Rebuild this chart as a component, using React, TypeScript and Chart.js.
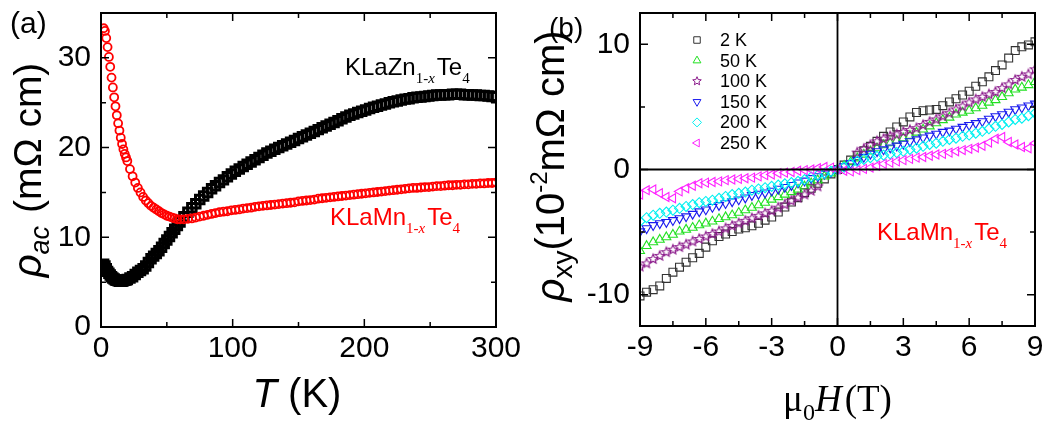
import React, { useEffect, useRef } from "react";
import { Chart, registerables } from "chart.js";
Chart.register(...registerables);

const SANS = "'Liberation Sans', Arial, sans-serif";
const SERIF = "'Liberation Serif', 'Times New Roman', serif";

// ---------- Panel (a): resistivity vs temperature ----------
const tempK = [
  2, 3, 4, 5, 6, 7, 8, 9, 10, 11, 12, 13, 14, 15, 16, 17, 18, 19, 20,
  22, 24, 26, 28, 30, 32, 34, 36, 38, 40, 42, 44, 46, 48, 50, 52, 54, 56, 58, 60,
  63, 66, 69, 72, 75, 78, 81, 84, 87, 90,
  93, 96, 99, 102, 105, 108, 111, 114, 117, 120,
  123, 126, 129, 132, 135, 138, 141, 144, 147, 150,
  153, 156, 159, 162, 165, 168, 171, 174, 177, 180,
  183, 186, 189, 192, 195, 198, 201, 204, 207, 210,
  213, 216, 219, 222, 225, 228, 231, 234, 237, 240,
  243, 246, 249, 252, 255, 258, 261, 264, 267, 270,
  273, 276, 279, 282, 285, 288, 291, 294, 297, 300,
];
const rhoZn = [
  7.0, 6.8, 6.5, 6.2, 6.0, 5.8, 5.6, 5.45, 5.35, 5.25, 5.2, 5.15, 5.1, 5.1, 5.1, 5.15, 5.2, 5.25, 5.3,
  5.45, 5.6, 5.85, 6.1, 6.3, 6.5, 6.8, 7.2, 7.6, 7.9, 8.2, 8.5, 8.9, 9.3, 9.7, 10.1, 10.5, 10.9, 11.3, 11.7,
  12.3, 12.8, 13.3, 13.75, 14.2, 14.6, 15.0, 15.4, 15.75, 16.1,
  16.4, 16.75, 17.05, 17.35, 17.6, 17.9, 18.15, 18.4, 18.65, 18.9,
  19.15, 19.4, 19.6, 19.8, 20.0, 20.2, 20.4, 20.6, 20.8, 21.0,
  21.2, 21.4, 21.6, 21.8, 22.0, 22.2, 22.4, 22.6, 22.8, 23.0,
  23.2, 23.4, 23.6, 23.75, 23.9, 24.05, 24.2, 24.35, 24.5, 24.6,
  24.75, 24.85, 25.0, 25.1, 25.2, 25.3, 25.4, 25.45, 25.55, 25.6,
  25.65, 25.7, 25.75, 25.8, 25.85, 25.85, 25.9, 25.9, 25.95, 25.95,
  25.95, 25.9, 25.9, 25.85, 25.85, 25.8, 25.8, 25.75, 25.7, 25.7,
];
const rhoMn = [
  33.3, 33.0, 32.2, 31.2, 30.1, 29.0, 27.8, 26.7, 25.6, 24.6, 23.6, 22.7, 21.9, 21.1, 20.4, 19.8, 19.3, 18.9, 18.5,
  17.6, 16.8, 16.1, 15.5, 15.0, 14.5, 14.1, 13.8, 13.5, 13.3, 13.1, 12.9, 12.7, 12.55, 12.4, 12.3, 12.2, 12.1, 12.0, 12.0,
  12.0, 12.05, 12.1, 12.2, 12.3, 12.4, 12.5, 12.6, 12.7, 12.8,
  12.85, 12.9, 13.0, 13.05, 13.1, 13.2, 13.25, 13.3, 13.4, 13.45,
  13.5, 13.55, 13.6, 13.65, 13.7, 13.75, 13.8, 13.85, 13.9, 14.0,
  14.05, 14.1, 14.15, 14.2, 14.3, 14.35, 14.4, 14.45, 14.5, 14.55,
  14.6, 14.65, 14.7, 14.75, 14.8, 14.85, 14.9, 14.95, 15.0, 15.05,
  15.1, 15.15, 15.2, 15.25, 15.3, 15.35, 15.4, 15.45, 15.5, 15.5,
  15.55, 15.6, 15.6, 15.65, 15.7, 15.7, 15.75, 15.8, 15.8, 15.85,
  15.85, 15.9, 15.9, 15.95, 15.95, 16.0, 16.0, 16.05, 16.05, 16.1,
];
const tempTicks = [0, 100, 200, 300];
const tempMinor = [50, 150, 250];
const rhoTicks = [0, 10, 20, 30];
const rhoMinor = [5, 15, 25];

// ---------- Panel (b): Hall resistivity vs field ----------
const fieldT = [
  -9, -8.7, -8.4, -8.1, -7.8, -7.5, -7.2, -6.9, -6.6, -6.3,
  -6, -5.7, -5.4, -5.1, -4.8, -4.5, -4.2, -3.9, -3.6, -3.3,
  -3, -2.7, -2.4, -2.1, -1.8, -1.5, -1.2, -0.9, -0.6, -0.3,
  0,
  0.3, 0.6, 0.9, 1.2, 1.5, 1.8, 2.1, 2.4, 2.7, 3,
  3.3, 3.6, 3.9, 4.2, 4.5, 4.8, 5.1, 5.4, 5.7, 6,
  6.3, 6.6, 6.9, 7.2, 7.5, 7.8, 8.1, 8.4, 8.7, 9,
];
const hall2K = [
  -10.1, -9.8, -9.6, -9.3, -8.7, -8.2, -7.8, -7.4, -7.05, -6.7,
  -6.2, -5.7, -5.35, -5.15, -4.95, -4.75, -4.65, -4.5, -4.3, -4.05,
  -3.8, -3.4, -3.0, -2.6, -2.25, -1.85, -1.5, -1.1, -0.75, -0.35,
  0,
  0.35, 0.75, 1.1, 1.5, 1.85, 2.25, 2.65, 3.0, 3.4, 3.8,
  4.2, 4.55, 4.7, 4.75, 4.8, 5.1, 5.4, 5.65, 5.95, 6.25,
  6.65, 7.0, 7.4, 7.9, 8.35, 8.9, 9.5, 9.8, 9.95, 10.2,
];
const hall50K = [
  -6.5, -6.1, -5.8, -5.6, -5.4, -5.2, -4.95, -4.8, -4.65, -4.45,
  -4.3, -4.15, -3.95, -3.8, -3.65, -3.45, -3.25, -3.05, -2.85, -2.65,
  -2.4, -2.2, -2.0, -1.8, -1.6, -1.35, -1.1, -0.85, -0.55, -0.3,
  0,
  0.3, 0.6, 0.9, 1.2, 1.45, 1.7, 1.95, 2.1, 2.3, 2.5,
  2.7, 2.95, 3.2, 3.45, 3.7, 3.95, 4.15, 4.4, 4.55, 4.7,
  4.9, 5.1, 5.35, 5.55, 5.8, 6.1, 6.4, 6.55, 6.75, 7.0,
];
const hall100K = [
  -7.75, -7.5, -7.15, -6.9, -6.6, -6.4, -6.2, -6.0, -5.75, -5.55,
  -5.35, -5.15, -4.95, -4.7, -4.5, -4.3, -4.1, -3.9, -3.7, -3.5,
  -3.3, -3.05, -2.8, -2.5, -2.25, -2.0, -1.7, -1.35, null, null,
  null,
  null, null, 1.35, 1.65, 1.95, 2.25, 2.45, 2.65, 2.8, 3.0,
  3.15, 3.3, 3.55, 3.8, 4.0, 4.25, 4.5, 4.8, 5.05, 5.35,
  5.6, 5.8, 6.0, 6.2, 6.5, 6.8, 7.15, 7.4, 7.6, 8.0,
];
const hall150K = [
  -4.95, -4.7, -4.45, -4.3, -4.2, -4.05, -3.9, -3.75, -3.55, -3.35,
  -3.2, -3.0, -2.85, -2.7, -2.55, -2.4, -2.25, -2.05, -1.95, -1.85,
  -1.7, -1.55, -1.4, -1.25, -1.05, -0.9, -0.7, -0.55, -0.35, -0.2,
  0,
  0.25, 0.5, 0.75, 1.0, 1.25, 1.45, 1.6, 1.75, 1.9, 2.05,
  2.25, 2.4, 2.55, 2.7, 2.85, 3.0, 3.1, 3.25, 3.4, 3.55,
  3.7, 3.85, 4.05, 4.25, 4.4, 4.6, 4.8, 4.95, 5.1, 5.25,
];
const hall200K = [
  -4.15, -3.85, -3.65, -3.5, -3.4, -3.25, -3.1, -2.95, -2.8, -2.65,
  -2.55, -2.45, -2.3, -2.15, -2.0, -1.9, -1.8, -1.65, -1.55, -1.45,
  -1.35, -1.25, -1.15, -1.05, -0.95, -0.8, -0.6, -0.45, -0.3, -0.15,
  0,
  0.2, 0.45, 0.65, 0.8, 0.95, 1.05, 1.15, 1.25, 1.35, 1.45,
  1.6, 1.7, 1.85, 2.0, 2.1, 2.25, 2.4, 2.5, 2.65, 2.75,
  2.9, 3.05, 3.25, 3.45, 3.6, 3.8, 4.0, 4.1, 4.3, 4.5,
];
const hall250K = [
  -2.0, -1.65, -1.6, -1.9, -2.2, -2.3, -1.75, -1.5, -1.3, -1.1,
  -1.05, -1.0, -0.95, -0.85, -0.8, -0.75, -0.7, -0.65, -0.55, -0.45,
  -0.4, -0.3, -0.25, -0.2, -0.1, -0.05, 0.0, 0.1, 0.2, 0.15,
  0,
  -0.1, -0.15, -0.05, 0.05, 0.15, 0.3, 0.45, 0.55, 0.65, 0.75,
  0.85, 0.95, 1.0, 1.1, 1.2, 1.25, 1.35, 1.45, 1.55, 1.65,
  1.75, 1.9, 2.15, 2.45, 2.6, 2.2, 2.0, 1.8, 1.7, 2.1,
];
const hallLabels = ["2 K", "50 K", "100 K", "150 K", "200 K", "250 K"];
const fieldTicks = [-9, -6, -3, 0, 3, 6, 9];
const fieldMinor = [-7.5, -4.5, -1.5, 1.5, 4.5, 7.5];
const hallTicks = [-10, 0, 10];
const hallMinor = [-5, 5];

// marker styling (not data)
type Kind = "square" | "up" | "star" | "down" | "diamond" | "left";
const hallKinds: Kind[] = ["square", "up", "star", "down", "diamond", "left"];
const hallColors = ["#333333", "#22e022", "#8b1a8b", "#1a1aee", "#00f0f0", "#ff22ff"];

function shapePath(ctx: CanvasRenderingContext2D, kind: Kind, x: number, y: number, r: number) {
  ctx.beginPath();
  if (kind === "square") {
    const s = r * 1.3;
    ctx.rect(x - s / 2, y - s / 2, s, s);
    return;
  }
  if (kind === "diamond") {
    ctx.moveTo(x, y - r); ctx.lineTo(x + r, y); ctx.lineTo(x, y + r); ctx.lineTo(x - r, y); ctx.closePath();
    return;
  }
  if (kind === "star") {
    for (let i = 0; i < 10; i++) {
      const rr = i % 2 === 0 ? r : r * 0.45;
      const a = -Math.PI / 2 + (i * Math.PI) / 5;
      const px = x + rr * Math.cos(a), py = y + rr * Math.sin(a);
      if (i === 0) ctx.moveTo(px, py); else ctx.lineTo(px, py);
    }
    ctx.closePath();
    return;
  }
  const rot = kind === "up" ? 0 : kind === "down" ? Math.PI : -Math.PI / 2;
  for (let i = 0; i < 3; i++) {
    const a = rot + (i * 2 * Math.PI) / 3;
    const px = x + Math.sin(a) * r, py = y - Math.cos(a) * r;
    if (i === 0) ctx.moveTo(px, py); else ctx.lineTo(px, py);
  }
  ctx.closePath();
}

function makeStarCanvas(r: number, color: string) {
  const c = document.createElement("canvas");
  const s = Math.ceil(2 * r + 4);
  c.width = s; c.height = s;
  const g = c.getContext("2d")!;
  g.strokeStyle = color; g.lineWidth = 1.1;
  shapePath(g, "star", s / 2, s / 2, r);
  g.stroke();
  return c;
}

type Seg = { t: string; f: string; dy?: number; gap?: number };
function drawRich(ctx: CanvasRenderingContext2D, segs: Seg[], x: number, y: number, color: string, align: "left" | "center") {
  ctx.save();
  ctx.fillStyle = color;
  ctx.textBaseline = "alphabetic";
  ctx.textAlign = "left";
  let total = 0;
  const widths = segs.map((s) => { ctx.font = s.f; const w = ctx.measureText(s.t).width + (s.gap || 0); total += w; return w; });
  let cx = align === "center" ? x - total / 2 : x;
  segs.forEach((s, i) => { ctx.font = s.f; ctx.fillText(s.t, cx, y + (s.dy || 0)); cx += widths[i]; });
  ctx.restore();
}
function drawRotated(ctx: CanvasRenderingContext2D, segs: Seg[], bx: number, cy: number, color: string) {
  ctx.save();
  ctx.translate(bx, cy);
  ctx.rotate(-Math.PI / 2);
  drawRich(ctx, segs, 0, 0, color, "center");
  ctx.restore();
}

function formula(ctx: CanvasRenderingContext2D, metal: string, x: number, y: number, color: string) {
  drawRich(ctx, [
    { t: "KLa" + metal, f: `24px ${SANS}` },
    { t: "1-", f: `15px ${SERIF}`, dy: 8 },
    { t: "x", f: `italic 15px ${SERIF}`, dy: 8, gap: 2 },
    { t: "Te", f: `24px ${SANS}` },
    { t: "4", f: `15px ${SERIF}`, dy: 8 },
  ], x, y, color, "left");
}

function framePlugin(id: string, xMaj: number[], xMin: number[], yMaj: number[], yMin: number[], zero: boolean, texts: (ctx: CanvasRenderingContext2D) => void) {
  return {
    id,
    afterDatasetsDraw(chart: any) {
      const { ctx, chartArea: a, scales } = chart;
      const xs = scales.x, ys = scales.y;
      ctx.save();
      ctx.strokeStyle = "#000";
      if (zero) {
        ctx.lineWidth = 1.8;
        const x0 = xs.getPixelForValue(0), y0 = ys.getPixelForValue(0);
        ctx.beginPath();
        ctx.moveTo(x0, a.top); ctx.lineTo(x0, a.bottom);
        ctx.moveTo(a.left, y0); ctx.lineTo(a.right, y0);
        ctx.stroke();
      }
      ctx.lineWidth = 1.5;
      ctx.beginPath();
      const xt = (vals: number[], len: number) => vals.forEach((v) => {
        const p = xs.getPixelForValue(v);
        ctx.moveTo(p, a.bottom); ctx.lineTo(p, a.bottom - len);
        ctx.moveTo(p, a.top); ctx.lineTo(p, a.top + len);
      });
      const yt = (vals: number[], len: number) => vals.forEach((v) => {
        const p = ys.getPixelForValue(v);
        ctx.moveTo(a.left, p); ctx.lineTo(a.left + len, p);
        ctx.moveTo(a.right, p); ctx.lineTo(a.right - len, p);
      });
      xt(xMaj, 8); xt(xMin, 5); yt(yMaj, 8); yt(yMin, 5);
      ctx.stroke();
      ctx.lineWidth = 2;
      ctx.strokeRect(a.left, a.top, a.right - a.left, a.bottom - a.top);
      ctx.restore();
    },
    afterDraw(chart: any) {
      texts(chart.ctx);
    },
  };
}

function axis(min: number, max: number, ticks: number[], size: number, padding: number, horizontal: boolean) {
  return {
    type: "linear",
    min, max,
    grid: { display: false, drawTicks: false },
    border: { display: false },
    ticks: { font: { family: SANS, size }, color: "#000", padding, autoSkip: false, maxRotation: 0, includeBounds: false },
    afterBuildTicks: (s: any) => { s.ticks = ticks.map((v) => ({ value: v })); },
    afterFit: (s: any) => {
      if (horizontal) s.height = 60; else s.width = size;
      s.paddingLeft = 0; s.paddingRight = 0; s.paddingTop = 0; s.paddingBottom = 0;
    },
  } as any;
}

function PanelA() {
  const ref = useRef<HTMLCanvasElement>(null);
  useEffect(() => {
    const xAxis = axis(0, 300, tempTicks, 30, 4, true);
    const yAxis = axis(0, 35, rhoTicks, 30, 10, false);
    yAxis.afterFit = (s: any) => { s.width = 101; s.paddingTop = 0; s.paddingBottom = 0; };
    const chart = new Chart(ref.current!, {
      type: "scatter",
      data: {
        datasets: [
          {
            label: "KLaMn1-xTe4",
            data: tempK.map((t, i) => ({ x: t, y: rhoMn[i] })),
            pointStyle: "circle", pointRadius: 4, borderWidth: 1.8,
            borderColor: "#ff0000", backgroundColor: "rgba(0,0,0,0)", clip: 0, order: 1,
          } as any,
          {
            label: "KLaZn1-xTe4",
            data: tempK.map((t, i) => ({ x: t, y: rhoZn[i] })),
            pointStyle: "rect", pointRadius: 6, borderWidth: 3,
            borderColor: "#000000", backgroundColor: "rgba(0,0,0,0)", clip: 0, order: 2,
          } as any,
        ],
      },
      options: {
        animation: false, responsive: false, maintainAspectRatio: false, devicePixelRatio: 1, events: [],
        layout: { padding: { left: 0, right: 24, top: 13, bottom: 41 } },
        plugins: { legend: { display: false }, tooltip: { enabled: false } },
        scales: { x: xAxis, y: yAxis },
      },
      plugins: [framePlugin("frameA", tempTicks, tempMinor, rhoTicks, rhoMinor, false, (ctx) => {
        drawRich(ctx, [{ t: "(a)", f: `30px ${SANS}` }], 10, 33, "#000", "left");
        drawRotated(ctx, [
          { t: "\u03C1", f: `italic 40px ${SANS}` },
          { t: "ac", f: `italic 27px ${SANS}`, dy: 8, gap: 2 },
          { t: " (m\u03A9 cm)", f: `39px ${SANS}` },
        ], 41, 170, "#000");
        drawRich(ctx, [
          { t: "T", f: `italic 40px ${SANS}` },
          { t: " (K)", f: `40px ${SANS}` },
        ], 297, 407, "#000", "center");
        formula(ctx, "Zn", 345, 75, "#000");
        formula(ctx, "Mn", 330, 225, "#ff0000");
      }) as any],
    } as any);
    return () => chart.destroy();
  }, []);
  return <canvas ref={ref} width={520} height={428} style={{ position: "absolute", left: 0, top: 0, width: 520, height: 428 }} />;
}

function PanelB() {
  const ref = useRef<HTMLCanvasElement>(null);
  useEffect(() => {
    const star = makeStarCanvas(5, hallColors[2]);
    const xAxis = axis(-9, 9, fieldTicks, 30, 4, true);
    const yAxis = axis(-12.5, 12.5, hallTicks, 30, 10, false);
    yAxis.afterFit = (s: any) => { s.width = 120; s.paddingTop = 0; s.paddingBottom = 0; };
    const series = [hall2K, hall50K, hall100K, hall150K, hall200K, hall250K];
    const styleOf = (k: Kind): any => {
      switch (k) {
        case "square": return { pointStyle: "rect", pointRadius: 5.6, rotation: 0 };
        case "up": return { pointStyle: "triangle", pointRadius: 5.2, rotation: 0 };
        case "star": return { pointStyle: star, pointRadius: 5, rotation: 0 };
        case "down": return { pointStyle: "triangle", pointRadius: 5.2, rotation: 180 };
        case "diamond": return { pointStyle: "rectRot", pointRadius: 5, rotation: 0 };
        default: return { pointStyle: "triangle", pointRadius: 5.2, rotation: 270 };
      }
    };
    const datasets = series.map((vals, si) => ({
      label: hallLabels[si],
      data: fieldT.map((h, i) => ({ x: h, y: vals[i] })).filter((p) => p.y !== null),
      ...styleOf(hallKinds[si]),
      borderWidth: 1.1,
      borderColor: hallColors[si],
      backgroundColor: "rgba(0,0,0,0)",
      clip: 0,
      order: 6 - si,
    }));
    const chart = new Chart(ref.current!, {
      type: "scatter",
      data: { datasets: datasets as any },
      options: {
        animation: false, responsive: false, maintainAspectRatio: false, devicePixelRatio: 1, events: [],
        layout: { padding: { left: 0, right: 8, top: 13, bottom: 42 } },
        plugins: { legend: { display: false }, tooltip: { enabled: false } },
        scales: { x: xAxis, y: yAxis },
      },
      plugins: [framePlugin("frameB", fieldTicks, fieldMinor, hallTicks, hallMinor, true, (ctx) => {
        // legend
        hallLabels.forEach((lab, i) => {
          const y = 40 + i * 20.6;
          ctx.save();
          ctx.strokeStyle = hallColors[i];
          ctx.lineWidth = 1;
          shapePath(ctx, hallKinds[i], 177, y, hallKinds[i] === "square" ? 5 : 4.5);
          ctx.stroke();
          ctx.fillStyle = "#000";
          ctx.font = `18px ${SANS}`;
          ctx.textBaseline = "middle";
          ctx.fillText(lab, 200, y + 1);
          ctx.restore();
        });
        drawRotated(ctx, [
          { t: "\u03C1", f: `italic 40px ${SANS}` },
          { t: "xy", f: `28px ${SANS}`, dy: 8 },
          { t: "(10", f: `40px ${SANS}` },
          { t: "-2", f: `24px ${SANS}`, dy: -17 },
          { t: "m\u03A9 cm)", f: `40px ${SANS}` },
        ], 44, 166, "#000");
        drawRich(ctx, [{ t: "(b)", f: `28px ${SANS}` }], 29, 37, "#000", "left");
        drawRich(ctx, [
          { t: "\u03BC", f: `37px ${SERIF}` },
          { t: "0", f: `24px ${SERIF}`, dy: 9 },
          { t: "H", f: `italic 37px ${SERIF}`, gap: 3 },
          { t: "(T)", f: `37px ${SERIF}` },
        ], 317.5, 411, "#000", "center");
        formula(ctx, "Mn", 357, 240, "#ff0000");
      }) as any],
    } as any);
    return () => chart.destroy();
  }, []);
  return <canvas ref={ref} width={523} height={428} style={{ position: "absolute", left: 520, top: 0, width: 523, height: 428 }} />;
}

export default function App() {
  return (
    <div style={{ position: "fixed", left: 0, top: 0, width: 1043, height: 428, background: "#ffffff", overflow: "hidden" }}>
      <PanelA />
      <PanelB />
    </div>
  );
}
